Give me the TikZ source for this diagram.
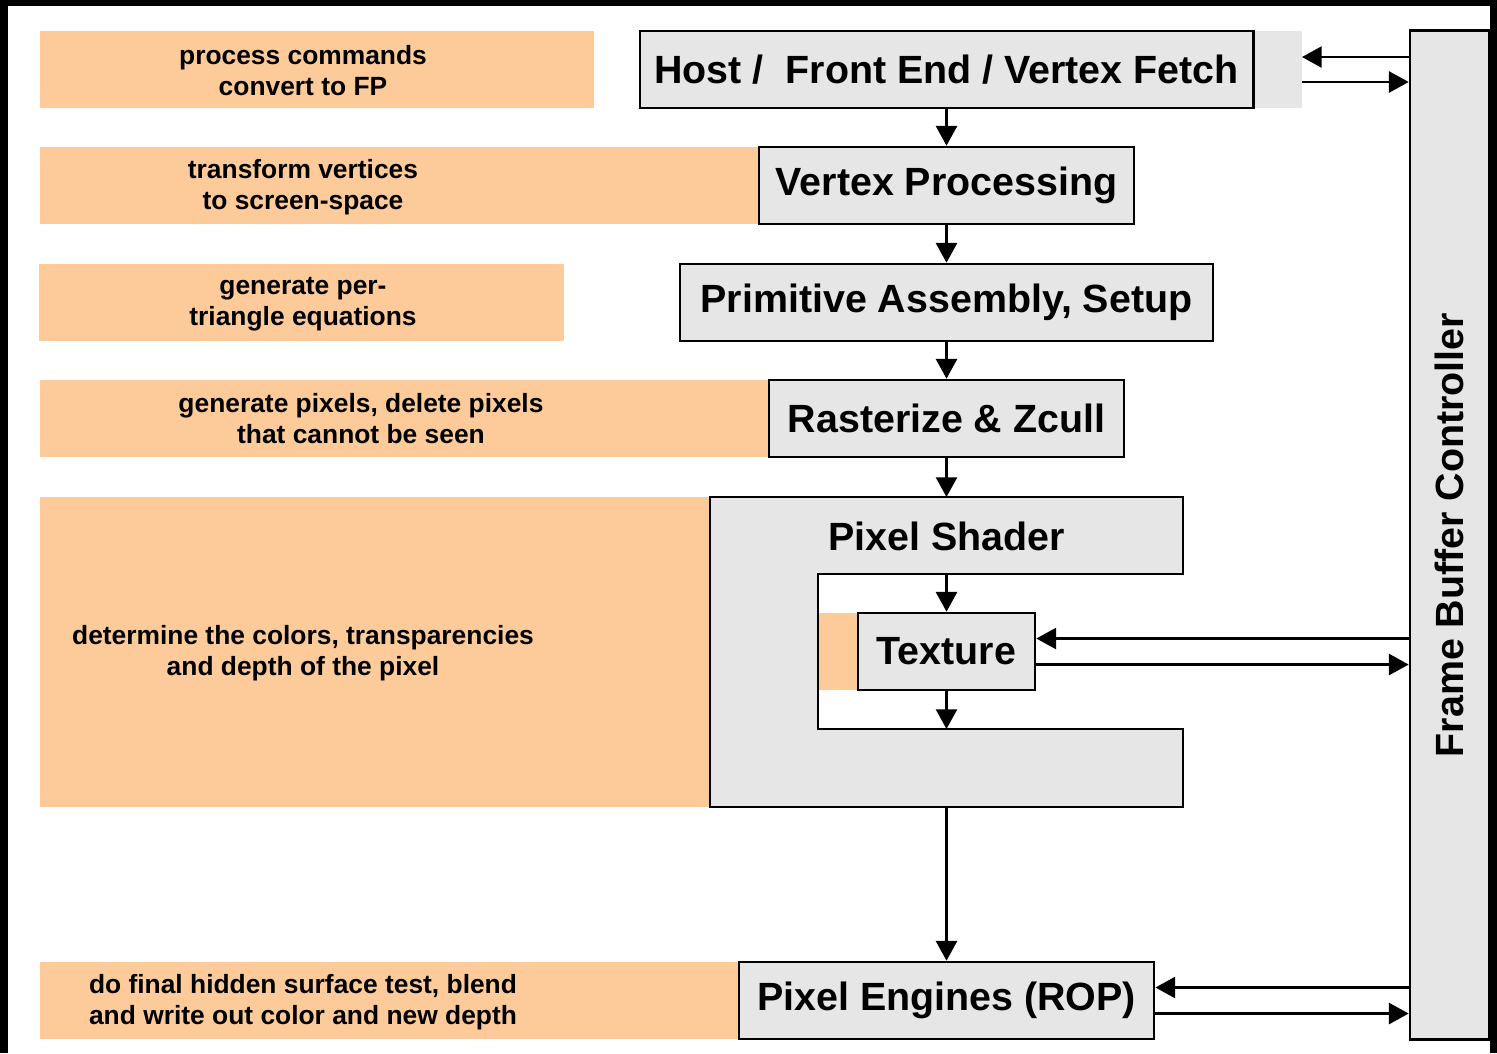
\documentclass[tikz,border=0pt]{standalone}
\usepackage{fontspec}
\setmainfont{Liberation Sans}
\usetikzlibrary{arrows.meta}
\definecolor{boxgray}{RGB}{230,230,230}
\definecolor{noteorange}{RGB}{253,203,153}
\tikzset{
  unit/.style={draw=black, line width=0.75pt, fill=boxgray, inner sep=0pt,
    font=\fontsize{11.2}{13}\selectfont\bfseries},
  note/.style={fill=noteorange},
  notetxt/.style={align=center, inner sep=0pt,
    font=\fontsize{7.5}{8.8}\selectfont\bfseries},
  flow/.style={line width=0.6pt, -{Triangle[length=5.6pt,width=6pt]}},
}
\begin{document}
\begin{tikzpicture}[x=0.01cm,y=-0.01cm]
% frame
\fill[black] (0,0) rectangle (1497,1053);
\fill[white] (8,6) rectangle (1490,1053);

% notes on the left
\fill[note] (40,31) rectangle (594,108);
\fill[note] (40,147) rectangle (758,224);
\fill[note] (39,264) rectangle (564,341);
\fill[note] (40,380) rectangle (768,457);
\fill[note] (40,497) rectangle (709,807);
\fill[note] (40,962) rectangle (740,1039);
\node[notetxt] (n1) at (303,71) {process commands\\convert to FP};
\node[notetxt] (n2) at (303,187) {transform vertices\\to screen-space};
\node[notetxt] (n3) at (303,304) {generate per-\\triangle equations};
\node[notetxt] (n4) at (361,419) {generate pixels, delete pixels\\that cannot be seen};
\node[notetxt] (n5) at (303,653) {determine the colors, transparencies\\and depth of the pixel};
\node[notetxt] (n6) at (303,1002) {do final hidden surface test, blend\\and write out color and new depth};

% pipeline
\fill[boxgray] (1253,31) rectangle (1302,108);
\node[unit, minimum width=6.13cm, minimum height=0.77cm] (host) at (946.5,69.5) {Host /\ \ Front End / Vertex Fetch};
\node[unit, minimum width=3.75cm, minimum height=0.77cm] (vp) at (946.5,185.5) {Vertex Processing};
\node[unit, minimum width=5.33cm, minimum height=0.77cm] (prim) at (946.5,302.5) {Primitive Assembly, Setup};
\node[unit, minimum width=3.55cm, minimum height=0.77cm] (rast) at (946.5,418.5) {Rasterize \& Zcull};

\filldraw[fill=boxgray, line width=0.75pt] (710,497) -- (1183,497) -- (1183,574) -- (818,574)
  -- (818,729) -- (1183,729) -- (1183,807) -- (710,807) -- cycle;
\node[font=\fontsize{11.2}{13}\selectfont\bfseries] (ps) at (946.5,536) {Pixel Shader};
\coordinate (pstop) at (946.5,497);
\coordinate (psin) at (946.5,574);
\coordinate (psout) at (946.5,729);
\coordinate (psbot) at (946.5,807);
\fill[note] (819,613) rectangle (858,690);
\node[unit, minimum width=1.77cm, minimum height=0.77cm] (tex) at (946.5,651.5) {Texture};
\node[unit, minimum width=4.15cm, minimum height=0.77cm] (rop) at (946.5,1000.5) {Pixel Engines (ROP)};

\node[unit, minimum width=0.79cm, minimum height=10.08cm] (fbc) at (1449.5,535) {\rotatebox{90}{Frame Buffer Controller}};

% flow down
\draw[flow] (host) -- (vp);
\draw[flow] (vp) -- (prim);
\draw[flow] (prim) -- (rast);
\draw[flow] (rast) -- (pstop);
\draw[flow] (psin) -- (tex);
\draw[flow] (tex) -- (psout);
\draw[flow] (psbot) -- (rop);

% memory traffic
\coordinate (hin) at (1302,57);
\coordinate (hout) at (1302,82);
\coordinate (tin) at ([yshift=0.13cm]tex.east);
\coordinate (tout) at ([yshift=-0.13cm]tex.east);
\coordinate (rin) at ([yshift=0.13cm]rop.east);
\coordinate (rout) at ([yshift=-0.13cm]rop.east);
\draw[flow] (fbc.west |- hin) -- (hin);
\draw[flow] (hout) -- (fbc.west |- hout);
\draw[flow] (fbc.west |- tin) -- (tin);
\draw[flow] (tout) -- (fbc.west |- tout);
\draw[flow] (fbc.west |- rin) -- (rin);
\draw[flow] (rout) -- (fbc.west |- rout);
\end{tikzpicture}
\end{document}
